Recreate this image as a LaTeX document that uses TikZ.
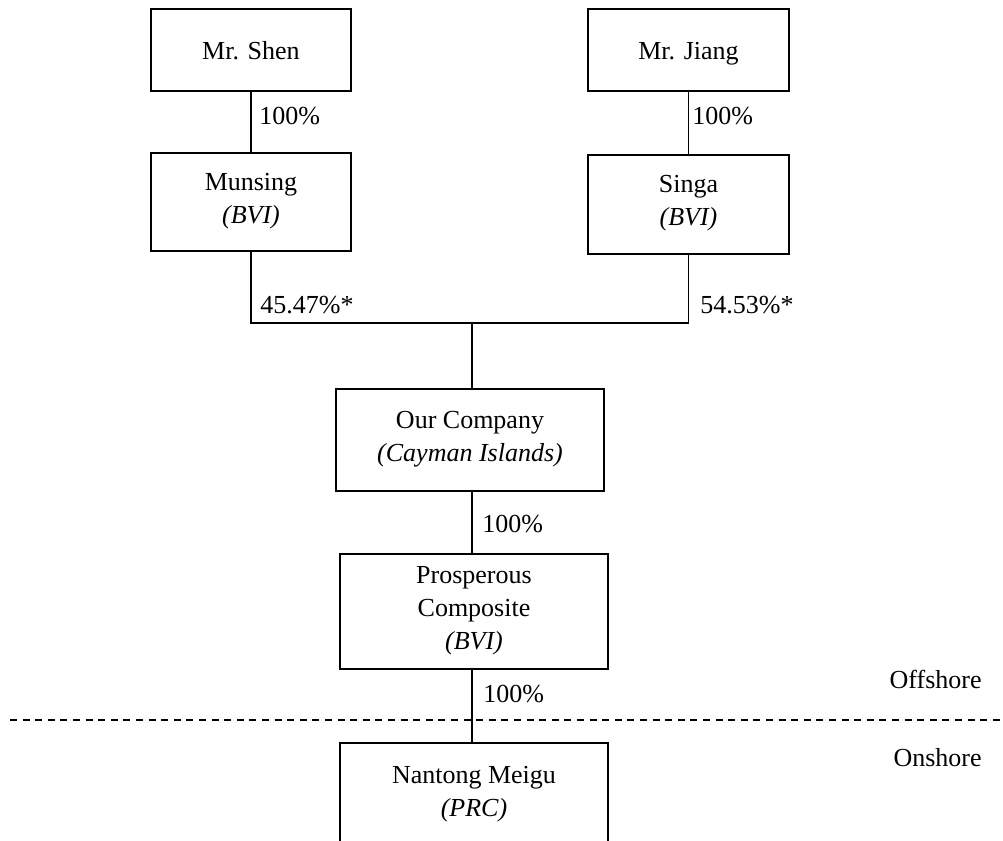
\documentclass[tikz,border=0pt]{standalone}
\usepackage{fontspec}
\setmainfont{Liberation Serif}

\begin{document}
\begin{tikzpicture}
[x=0.5pt, y=-0.5pt, every node/.style={inner sep=0pt},
 entity/.style={draw=black, line width=0.6pt, align=center, font=\fontsize{13}{16.5}\selectfont,
   execute at begin node={\rule{0pt}{12.9pt}}, execute at end node={\rule[-3.9pt]{0pt}{3.9pt}}},
 multi/.style={entity, execute at begin node={\rule{0pt}{15.5pt}}},
 share/.style={anchor=base west, font=\fontsize{13}{16.5}\selectfont},
 zone/.style={anchor=base east, font=\fontsize{13}{16.5}\selectfont},
 link/.style={line width=0.6pt, color=black}]
\useasboundingbox (0,0) rectangle (1003,841);
\clip (0,0) rectangle (1003,841);
\node (shen) [entity, minimum width=100pt, minimum height=41pt] at (251, 50) {Mr. Shen};
\node (jiang) [entity, minimum width=100.5pt, minimum height=41pt] at (688.5, 50) {Mr. Jiang};
\node (munsing) [multi, minimum width=100pt, minimum height=49pt] at (251, 202) {Munsing\\\textit{(BVI)}};
\node (singa) [multi, minimum width=100.5pt, minimum height=49.5pt] at (688.5, 204.5) {Singa\\\textit{(BVI)}};
\node (ourco) [multi, minimum width=134pt, minimum height=51pt] at (470, 440) {Our Company\\\textit{(Cayman Islands)}};
\node (prosp) [multi, minimum width=134pt, minimum height=57.5pt] at (474, 611.5) {Prosperous\\Composite\\\textit{(BVI)}};
\node (nantong) [multi, minimum width=134pt, minimum height=52pt] at (474, 795) {Nantong Meigu\\\textit{(PRC)}};
\coordinate (j) at (472, 323);
% ownership lines
\draw [link] (shen) -- (munsing);
\draw [link] (jiang) -- (singa);
\draw [link] (munsing.south) |- (j) -| (singa.south);
\draw [link] (j) -- (ourco.north -| j);
\draw [link] (ourco.south -| j) -- (prosp.north -| j);
\draw [link] (prosp.south -| j) -- (nantong.north -| j);
% share labels
\node (s1) [share] at (259, 124) {100\%};
\node (s2) [share] at (692, 124) {100\%};
\node (s3) [share] at (260, 313) {45.47\%*};
\node (s4) [share] at (700, 313) {54.53\%*};
\node (s5) [share] at (482, 532) {100\%};
\node (s6) [share] at (483, 702) {100\%};
% offshore / onshore divide
\coordinate (d1) at (10, 720);
\coordinate (d2) at (1003, 720);
\draw [link, dash pattern=on 3.5pt off 2.8pt] (d1) -- (d2);
\node (off) [zone] at (982, 688) {Offshore};
\node (on) [zone] at (982, 766) {Onshore};
\end{tikzpicture}
\end{document}
